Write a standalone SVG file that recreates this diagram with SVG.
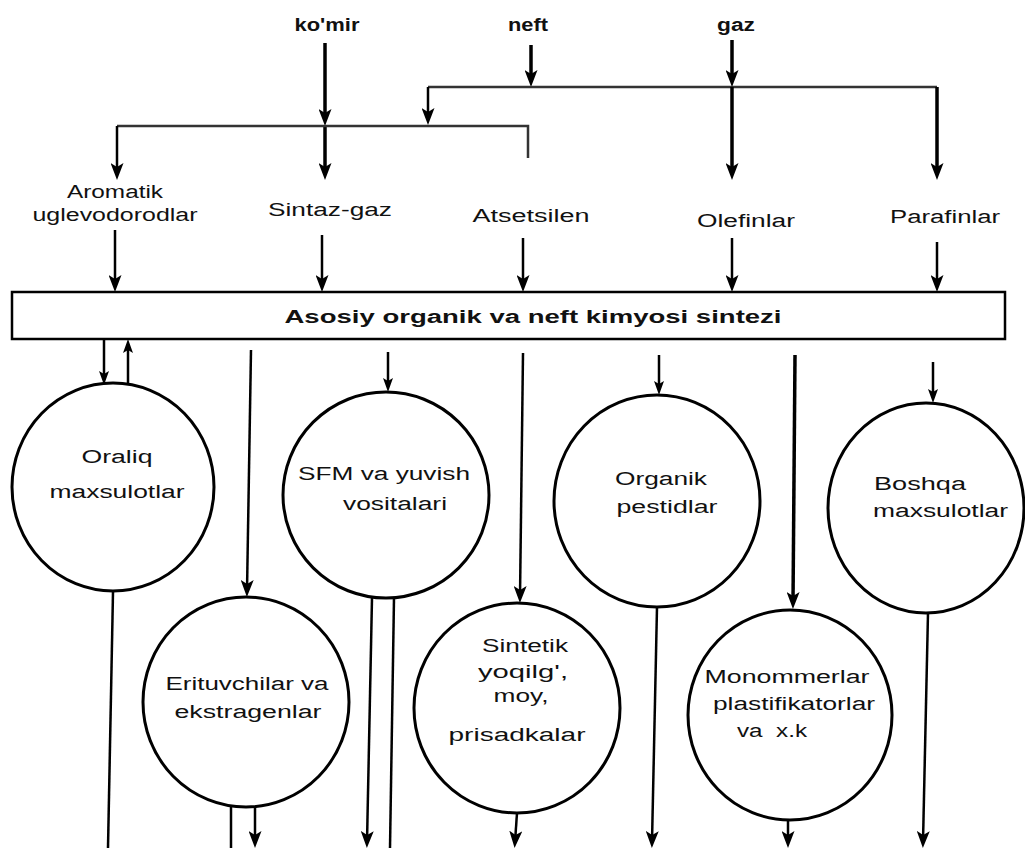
<svg xmlns="http://www.w3.org/2000/svg" width="1025" height="853" viewBox="0 0 1025 853">
<style>
.t{font-family:"Liberation Sans",Arial,sans-serif;font-size:18px;fill:#111;text-anchor:middle}
.b{font-weight:bold}
.ln{fill:none;stroke:#000;stroke-width:2.5}
.th{stroke-width:3.5}
.hz{fill:none;stroke:#333;stroke-width:2.5}
.nd{fill:#fff;stroke:#000;stroke-width:3}
.a{marker-end:url(#ah)}
.s{marker-end:url(#as)}
</style>
<defs>
<marker id="ah" markerUnits="userSpaceOnUse" viewBox="0 0 17 13" markerWidth="17" markerHeight="13" refX="11" refY="6.5" orient="auto"><path d="M0,0 L17,6.5 L0,13 L4,6.5 z" fill="#000"/></marker>
<marker id="as" markerUnits="userSpaceOnUse" viewBox="0 0 14 10" markerWidth="14" markerHeight="10" refX="8" refY="5" orient="auto"><path d="M0,0 L14,5 L0,10 L3,5 z" fill="#000"/></marker>
</defs>

<g id="sources">
<text class="t b" x="327" y="31" font-size="15" textLength="65" lengthAdjust="spacingAndGlyphs">ko'mir</text>
<text class="t b" x="528" y="31" font-size="15" textLength="40" lengthAdjust="spacingAndGlyphs">neft</text>
<text class="t b" x="736" y="31" font-size="15" textLength="38" lengthAdjust="spacingAndGlyphs">gaz</text>
</g>

<g id="n-aromatik"><text class="t" x="115" y="198" textLength="96" lengthAdjust="spacingAndGlyphs">Aromatik</text><text class="t" x="115" y="221" textLength="165" lengthAdjust="spacingAndGlyphs">uglevodorodlar</text></g>
<g id="n-sintazgaz"><text class="t" x="330" y="216" textLength="124" lengthAdjust="spacingAndGlyphs">Sintaz-gaz</text></g>
<g id="n-atsetsilen"><text class="t" x="531" y="222" textLength="117" lengthAdjust="spacingAndGlyphs">Atsetsilen</text></g>
<g id="n-olefinlar"><text class="t" x="746" y="227" textLength="98" lengthAdjust="spacingAndGlyphs">Olefinlar</text></g>
<g id="n-parafinlar"><text class="t" x="945" y="223" textLength="110" lengthAdjust="spacingAndGlyphs">Parafinlar</text></g>

<g id="n-bar">
<rect x="12" y="292" width="993" height="47" fill="#fff" stroke="#000" stroke-width="2.5"/>
<text class="t b" x="533" y="323" font-size="21" textLength="497" lengthAdjust="spacingAndGlyphs">Asosiy organik va neft kimyosi sintezi</text>
</g>

<g id="n-oraliq"><ellipse class="nd" cx="113" cy="487" rx="101" ry="104"/><text class="t" x="117" y="463" textLength="71" lengthAdjust="spacingAndGlyphs">Oraliq</text><text class="t" x="117" y="498" textLength="135" lengthAdjust="spacingAndGlyphs">maxsulotlar</text></g>
<g id="n-erituvchilar"><ellipse class="nd" cx="246" cy="702" rx="103" ry="105"/><text class="t" x="247" y="690" textLength="163" lengthAdjust="spacingAndGlyphs">Erituvchilar va</text><text class="t" x="248" y="718" textLength="147" lengthAdjust="spacingAndGlyphs">ekstragenlar</text></g>
<g id="n-sfm"><ellipse class="nd" cx="386" cy="495" rx="103" ry="103"/><text class="t" x="384" y="480" textLength="172" lengthAdjust="spacingAndGlyphs">SFM va yuvish</text><text class="t" x="395" y="510" textLength="104" lengthAdjust="spacingAndGlyphs">vositalari</text></g>
<g id="n-sintetik"><ellipse class="nd" cx="517" cy="708" rx="103" ry="105"/><text class="t" x="525" y="652" textLength="86" lengthAdjust="spacingAndGlyphs">Sintetik</text><text class="t" x="523" y="678" textLength="90" lengthAdjust="spacingAndGlyphs">yoqilg',</text><text class="t" x="521" y="702" textLength="55" lengthAdjust="spacingAndGlyphs">moy,</text><text class="t" x="517" y="741" textLength="137" lengthAdjust="spacingAndGlyphs">prisadkalar</text></g>
<g id="n-organik"><ellipse class="nd" cx="657" cy="501" rx="103" ry="106"/><text class="t" x="661" y="485" textLength="92" lengthAdjust="spacingAndGlyphs">Organik</text><text class="t" x="667" y="513" textLength="101" lengthAdjust="spacingAndGlyphs">pestidlar</text></g>
<g id="n-monommerlar"><ellipse class="nd" cx="790" cy="715" rx="102" ry="105"/><text class="t" x="787" y="683" textLength="165" lengthAdjust="spacingAndGlyphs">Monommerlar</text><text class="t" x="794" y="710" textLength="162" lengthAdjust="spacingAndGlyphs">plastifikatorlar</text><text class="t" x="772" y="737" textLength="70" lengthAdjust="spacingAndGlyphs" xml:space="preserve">va  x.k</text></g>
<g id="n-boshqa"><ellipse class="nd" cx="926" cy="508" rx="98" ry="105"/><text class="t" x="874" y="490" style="text-anchor:start" textLength="92" lengthAdjust="spacingAndGlyphs">Boshqa</text><text class="t" x="873" y="517" style="text-anchor:start" textLength="135" lengthAdjust="spacingAndGlyphs">maxsulotlar</text></g>

<g id="connectors">
<path class="ln th a" d="M325,43 V120"/>
<path class="ln th a" d="M325,126 V174"/>
<path class="hz" d="M528,158 V126 H117"/>
<path class="ln a" d="M117,126 V174"/>
<path class="ln th a" d="M531,45 V81"/>
<path class="hz" d="M428,87 H937"/>
<path class="ln a" d="M428,87 V119"/>
<path class="ln th a" d="M937,87 V174"/>
<path class="ln th a" d="M732,40 V81"/>
<path class="ln th a" d="M732,87 V174"/>

<path class="ln a" d="M115,230 V286"/>
<path class="ln a" d="M322,235 V286"/>
<path class="ln a" d="M523,238 V286"/>
<path class="ln a" d="M732,238 V286"/>
<path class="ln a" d="M937,242 V286"/>

<path class="ln s" d="M104,339 V379"/>
<path class="ln s" d="M128,385 V345"/>
<path class="ln a" d="M251,350 L247,591"/>
<path class="ln s" d="M388,352 V386"/>
<path class="ln a" d="M523,353 L520,597"/>
<path class="ln s" d="M659,355 V389"/>
<path class="ln th a" d="M795,355 L793,603"/>
<path class="ln s" d="M933,362 V397"/>

<path class="ln" d="M113,592 L108,848"/>
<path class="ln" d="M231,807 V848"/>
<path class="ln a" d="M255,807 V842"/>
<path class="ln a" d="M372,598 L367,842"/>
<path class="ln" d="M394,598 L390,848"/>
<path class="ln a" d="M517,813 L515,842"/>
<path class="ln a" d="M657,607 L652,842"/>
<path class="ln a" d="M788,820 V842"/>
<path class="ln a" d="M928,613 L923,842"/>
</g>
</svg>
